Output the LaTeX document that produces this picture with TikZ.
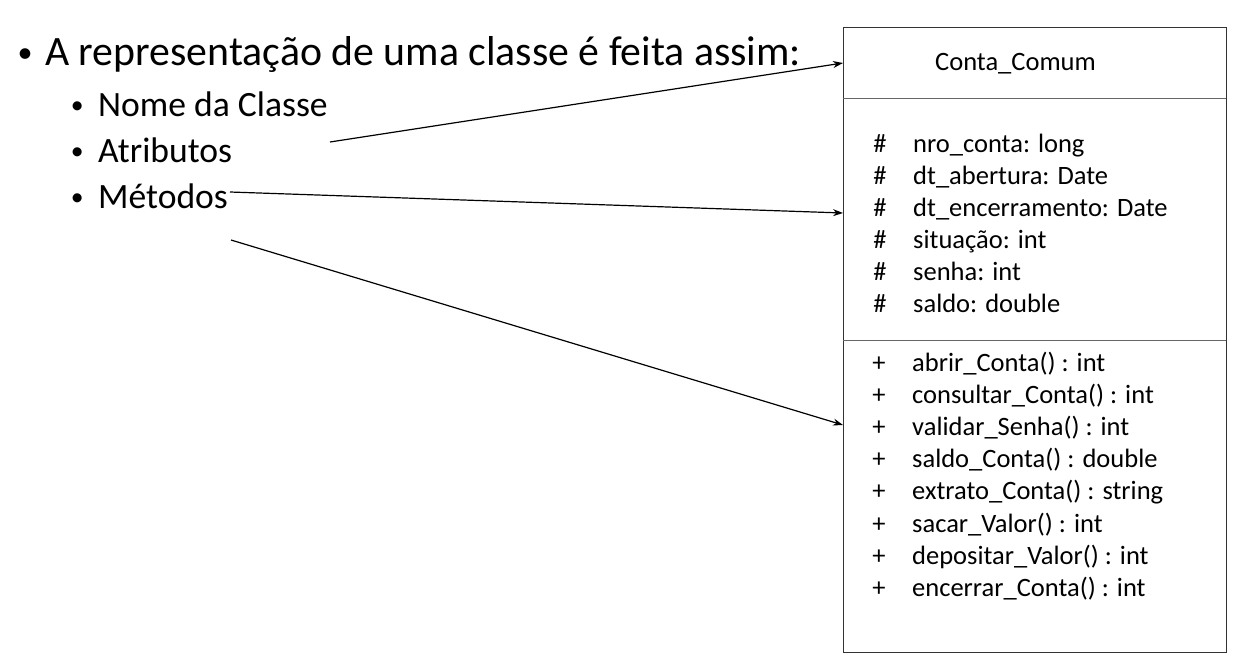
\documentclass[tikz,border=0pt]{standalone}
\usepackage{graphicx}
\usepackage{fontspec}
\setmainfont{Carlito}
\usetikzlibrary{arrows.meta}
\newcommand{\blt}{\makebox[20pt][c]{\raisebox{0.07em}{\scalebox{0.72}{•}}}}
\tikzset{
  titletext/.style={anchor=base west, inner sep=0pt, font=\fontsize{41.8}{50}\selectfont},
  itemtext/.style={anchor=base west, inner sep=0pt, font=\fontsize{35.6}{42}\selectfont},
  rowtext/.style={anchor=base west, inner sep=0pt, font=\fontsize{26.5}{32}\selectfont},
  vismark/.style={anchor=base, inner sep=0pt, font=\fontsize{26.5}{32}\selectfont},
  umlbox/.style={draw=black!80, line width=1.3pt},
  sepline/.style={draw=black!60, line width=1pt},
  link/.style={draw=black, line width=1.2pt, -{Stealth[length=10pt,width=7pt]}}
}
\begin{document}
\begin{tikzpicture}[x=1pt,y=-1pt]
\useasboundingbox (0,0) rectangle (1253,670);
% left text
\node[titletext] (t0) at (15,65) {\makebox[30pt][l]{\blt}A representação de uma classe é feita assim:};
\node[itemtext] (t1) at (67,116) {\makebox[31pt][l]{\blt}Nome da Classe};
\node[itemtext] (t2) at (67,162) {\makebox[31pt][l]{\blt}Atributos};
\node[itemtext] (t3) at (67,208) {\makebox[31pt][l]{\blt}Métodos};
% class box
\node[umlbox, anchor=north west, minimum width=383pt, minimum height=625pt, inner sep=0pt] (cls) at (843,27) {};
\coordinate (s1l) at (843,98); \coordinate (s1r) at (1226,98);
\coordinate (s2l) at (843,340); \coordinate (s2r) at (1226,340);
\draw[sepline] (s1l) -- (s1r);
\draw[sepline] (s2l) -- (s2r);
\node[rowtext] (name) at (935,70) {Conta\_Comum};
% attributes
\foreach \t [count=\i from 0] in {nro\_conta: long, dt\_abertura: Date, dt\_encerramento: Date, situação: int, senha: int, saldo: double}{
  \node[vismark] (am\i) at (880,152+32*\i) {\#};
  \node[rowtext] (a\i) at (913,152+32*\i) {\t};
}
% methods
\foreach \t [count=\i from 0] in {abrir\_Conta() : int, consultar\_Conta() : int, validar\_Senha() : int, saldo\_Conta() : double, extrato\_Conta() : string, sacar\_Valor() : int, depositar\_Valor() : int, encerrar\_Conta() : int}{
  \node[vismark] (mm\i) at (879,371+32.2*\i) {+};
  \node[rowtext] (m\i) at (912,371+32.2*\i) {\t};
}
% connectors
\coordinate (p1) at (330,142);
\coordinate (q1) at (843,63);
\coordinate (p2) at (230,192);
\coordinate (q2) at (843,213);
\coordinate (p3) at (231,240);
\coordinate (q3) at (843,425);
\draw[link] (p1) -- (q1);
\draw[link] (p2) -- (q2);
\draw[link] (p3) -- (q3);
\end{tikzpicture}
\end{document}
